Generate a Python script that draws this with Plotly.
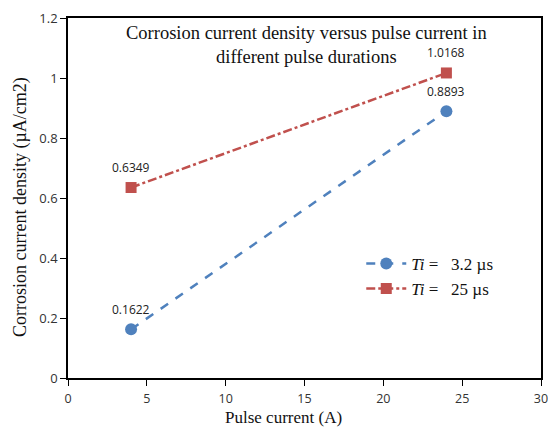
import plotly.graph_objects as go

pulse_current = [4, 24]
ti_32 = [0.1622, 0.8893]
ti_25 = [0.6349, 1.0168]
series_names = ["<i>Ti</i> =&nbsp;&nbsp;&nbsp;3.2 µs", "<i>Ti</i> =&nbsp;&nbsp;&nbsp;25 µs"]
x_ticks = [0, 5, 10, 15, 20, 25, 30]
y_ticks = [0, 0.2, 0.4, 0.6, 0.8, 1.0, 1.2]
y_tick_text = ["0", "0.2", "0.4", "0.6", "0.8", "1", "1.2"]

blue = "#4F81BD"
red = "#C0504D"
serif = "Liberation Serif, Times New Roman, serif"
sans = "Open Sans, Arial, sans-serif"

fig = go.Figure()
fig.add_trace(go.Scatter(
    x=pulse_current, y=ti_32, mode="lines+markers", name=series_names[0],
    line=dict(color=blue, width=2.5, dash="dash"),
    marker=dict(symbol="circle", size=12, color=blue),
))
fig.add_trace(go.Scatter(
    x=pulse_current, y=ti_25, mode="lines+markers", name=series_names[1],
    line=dict(color=red, width=2.5, dash="dashdot"),
    marker=dict(symbol="square", size=11, color=red),
))

for xs, ys in [(pulse_current, ti_32), (pulse_current, ti_25)]:
    for x, y in zip(xs, ys):
        fig.add_annotation(x=x, y=y, text=f"{y:.4f}", showarrow=False,
                           yshift=20, font=dict(family=sans, size=12, color="#222"))

fig.add_annotation(xref="paper", yref="paper", x=0.505, y=0.992, yanchor="top",
                   text="Corrosion current density versus pulse current in<br>different pulse durations",
                   showarrow=False, align="center",
                   font=dict(family=serif, size=18.5, color="#111"))

# axis titles placed as annotations to match the reference offsets
fig.add_annotation(xref="paper", yref="paper", x=(283 - 68) / 473, y=(378 - 417) / 360,
                   yanchor="middle", xanchor="center", showarrow=False, borderpad=0,
                   text="Pulse current (A)", font=dict(family=serif, size=17, color="#111"))
fig.add_annotation(xref="paper", yref="paper", x=(20 - 68) / 473, y=(378 - 207) / 360,
                   yanchor="middle", xanchor="center", showarrow=False, textangle=-90,
                   text="Corrosion current density (µA/cm2)", font=dict(family=serif, size=18, color="#111"))

fig.update_layout(
    width=548, height=427,
    margin=dict(l=68, r=7, t=18, b=49),
    paper_bgcolor="white", plot_bgcolor="white",
    showlegend=True,
    legend=dict(x=0.62, y=0.367, xanchor="left", yanchor="top",
                bgcolor="rgba(0,0,0,0)",
                font=dict(family=serif, size=17, color="#111"),
                tracegroupgap=0, itemwidth=40),
    xaxis=dict(range=[0, 30], tickvals=x_ticks, showgrid=False, zeroline=False,
               showline=True, linecolor="black", linewidth=1.5, mirror=True,
               ticks="outside", ticklen=6, tickcolor="black", automargin=False,
               ticklabeloverflow="allow", ticklabelstandoff=2,
               tickfont=dict(family=sans, size=12.5, color="#333")),
    yaxis=dict(range=[0, 1.2], tickvals=y_ticks, ticktext=y_tick_text, showgrid=False, zeroline=False,
               showline=True, linecolor="black", linewidth=1.5, mirror=True,
               ticks="outside", ticklen=6, tickcolor="black", automargin=False,
               ticklabeloverflow="allow",
               tickfont=dict(family=sans, size=13, color="#333")),
)

fig.write_html("out.html")
